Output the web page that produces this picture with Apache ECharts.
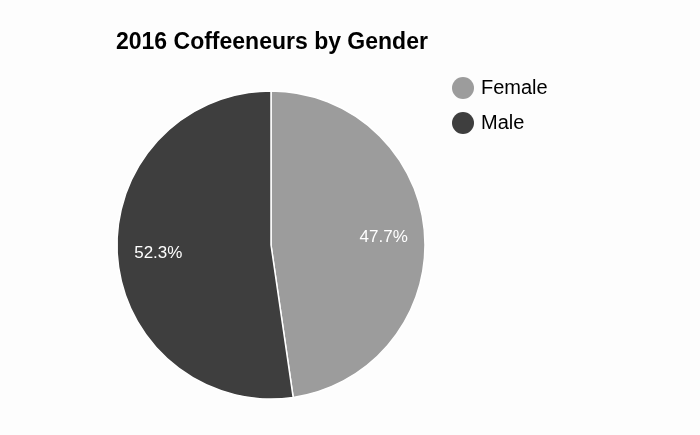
<!DOCTYPE html>
<html>
<head>
<meta charset="utf-8">
<script src="https://cdn.jsdelivr.net/npm/echarts@6/dist/echarts.min.js"></script>
<style>
    html, body { margin: 0; padding: 0; background: #fdfdfd; }
    #main { width: 700px; height: 435px; }
</style>
</head>
<body>
<div id="main"></div>
<script type="text/javascript">
    var categories = ['Female', 'Male'];
    var shares = [47.7, 52.3];
    var colors = ['#9c9c9c', '#3e3e3e'];

    var pieData = categories.map(function (name, i) {
        return { name: name, value: shares[i], itemStyle: { color: colors[i] } };
    });

    var myChart = echarts.init(document.getElementById('main'));

    var option = {
        backgroundColor: '#fdfdfd',
        animation: false,
        title: {
            text: '2016 Coffeeneurs by Gender',
            left: 111,
            top: 26,
            textStyle: {
                fontFamily: 'Liberation Sans',
                fontWeight: 'bold',
                fontSize: 23,
                color: '#000'
            }
        },
        legend: {
            orient: 'vertical',
            left: 452,
            top: 77,
            padding: 0,
            itemWidth: 22,
            itemHeight: 22,
            itemGap: 13,
            itemStyle: { borderWidth: 0 },
            icon: 'circle',
            data: categories,
            textStyle: {
                fontFamily: 'Liberation Sans',
                fontSize: 20,
                color: '#000',
                padding: [0, 0, 0, 2]
            }
        },
        series: [{
            type: 'pie',
            center: [271, 245],
            radius: 154,
            startAngle: 90,
            clockwise: true,
            label: { show: false },
            labelLine: { show: false },
            itemStyle: { borderColor: '#ffffff', borderWidth: 1.5 },
            emphasis: { disabled: true },
            data: pieData
        }, {
            // 透明的一层，只用来把百分比标签放到约 0.72 半径处
            type: 'pie',
            center: [271, 245],
            radius: [66, 154],
            startAngle: 90,
            clockwise: true,
            silent: true,
            legendHoverLink: false,
            itemStyle: { color: 'rgba(0,0,0,0)', borderWidth: 0 },
            label: {
                show: true,
                position: 'inside',
                color: '#fff',
                fontFamily: 'Liberation Sans',
                fontSize: 17,
                formatter: function (p) { return p.value.toFixed(1) + '%'; }
            },
            labelLine: { show: false },
            emphasis: { disabled: true },
            data: shares.map(function (v, i) { return { name: categories[i] + ' ', value: v }; })
        }]
    };

    myChart.setOption(option);
</script>
</body>
</html>
